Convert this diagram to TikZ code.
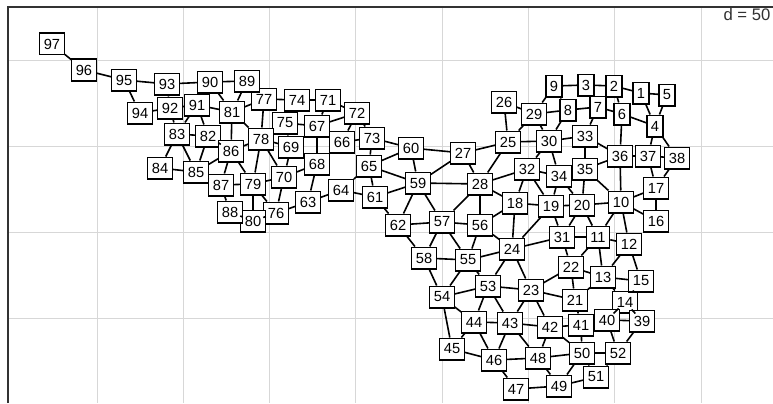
\documentclass[tikz,border=0pt]{standalone}
\usepackage{fontspec}
\setmainfont{Liberation Sans}
\usetikzlibrary{calc}
\definecolor{gridgray}{RGB}{215,215,215}
\definecolor{framegray}{RGB}{50,50,50}
\tikzset{
  site/.style  = {draw=black, fill=white, line width=0.95pt, inner xsep=3pt,
                  inner ysep=0pt, minimum height=16.3pt, font=\fontsize{11}{12}\selectfont},
  link/.style  = {draw=black, line width=1.2pt},
  gridln/.style = {draw=gridgray, line width=0.7pt},
}

\begin{document}
\begin{tikzpicture}[x=0.75pt, y=-0.75pt]

\useasboundingbox (0,0) rectangle (773,403);
\fill[white] (0,0) rectangle (773,403);

% grid
\foreach \gx in {97,183.3,269.6,355.9,442.2,528.5,614.8,701.1}
  \draw[gridln] (\gx,7) -- (\gx,403);
\foreach \gy in {60,146.3,232.6,318.9}
  \draw[gridln] (8,\gy) -- (773,\gy);
\draw[framegray, line width=0.8pt] (8,403) -- (8,7) -- (773,7);

\node[anchor=east, font=\fontsize{12.5}{14}\selectfont, text=framegray] (dlabel) at (775,15) {d = 50};

% sites
\foreach \n/\px/\py in {
  1/641/93, 2/614/86, 3/586/85, 4/655/126, 5/667/95, 6/622/114, 7/598/107,
  8/568/110, 9/554/86, 10/621/202, 11/598/237, 12/629/244, 13/603/277,
  14/625/302, 15/641/281, 16/656/221, 17/656/188, 18/515/203, 19/551/206,
  20/582/205, 21/575/300, 22/571/267, 23/531/290, 24/512/249, 25/508/142,
  26/504/102, 27/463/153, 28/480/184, 29/534/114, 30/549/141, 31/562/237,
  32/527/169, 33/585/136, 34/559/176, 35/585/169, 36/620/156, 37/648/156,
  38/677/158, 39/642/321, 40/607/320, 41/581/325, 42/550/327, 43/510/323,
  44/474/322, 45/452/349, 46/494/360, 47/516/389, 48/538/358, 49/559/386,
  50/582/353, 51/596/377, 52/618/353, 53/488/286, 54/442/297, 55/468/260,
  56/480/225, 57/442/222, 58/424/258, 59/418/183, 60/411/148, 61/375/197,
  62/398/225, 63/308/202, 64/341/190, 65/369/166, 66/342/142, 67/317/126,
  68/317/164, 69/291/147, 70/284/177, 71/328/100, 72/357/113, 73/372/138,
  74/297/100, 75/285/123, 76/276/213, 77/264/99, 78/261/139, 79/253/184,
  80/253/221, 81/232/112, 82/208/136, 83/177/134, 84/160/168, 85/196/172,
  86/231/151, 87/221/185, 88/230/212, 89/247/81, 90/210/82, 91/197/105,
  92/170/108, 93/167/84, 94/140/113, 95/124/80, 96/84/70, 97/52/44}
  \node[site] (s\n) at (\px,\py) {\n};

% links
\foreach \a/\b in {
  97/96, 96/95, 95/93, 95/94, 94/92, 93/92, 93/90, 90/89, 92/91, 91/81,
  90/81, 89/81, 92/83, 91/83, 91/82, 83/82, 83/84, 83/85, 82/85, 82/86,
  81/86, 81/78, 81/77, 86/85, 84/85, 85/87, 86/87, 86/79, 87/79, 87/88,
  88/80, 79/80, 80/76, 78/79, 78/86, 77/74, 74/71, 71/72, 71/67, 74/75,
  77/78, 75/67, 72/67, 72/66, 72/73, 66/73, 73/65, 67/68, 78/69, 78/70,
  75/69, 69/70, 68/70, 68/63, 70/76, 63/76, 63/64, 64/61, 64/65, 61/65,
  79/70, 79/76, 73/60, 65/60, 65/59, 60/27, 60/59, 61/59, 61/62, 59/28,
  59/27, 59/62, 59/57, 62/57, 57/56, 57/28, 28/56, 28/27, 28/25, 28/32,
  28/18, 27/25, 25/26, 26/29, 25/29, 25/30, 30/32, 32/18, 32/19, 32/34,
  18/19, 18/24, 56/18, 56/55, 57/55, 57/58, 62/58, 56/24,
  9/3, 3/2, 2/1, 1/5, 9/29, 9/8, 3/7, 29/8, 8/7, 2/6, 7/6, 1/4, 5/4, 6/4,
  6/36, 29/30, 8/30, 7/33, 30/33, 33/35, 33/36, 4/37, 4/38, 36/37, 37/38,
  36/35, 36/10, 37/17, 38/17, 17/10, 17/16, 10/16, 35/10, 35/20, 35/34,
  34/19, 34/20, 30/34, 19/20, 20/10,
  19/31, 20/31, 20/11, 10/11, 10/12, 24/31, 31/11, 11/12, 24/19, 31/22,
  11/22, 11/13, 12/13, 12/15, 22/23, 22/21, 22/13, 13/15, 13/21, 13/14,
  15/14, 23/21, 23/24, 23/42, 23/43, 21/41, 14/40, 14/39, 40/39, 41/40,
  42/41, 43/42, 42/48, 41/50, 42/50, 40/52, 39/52, 50/52, 48/50, 48/49,
  47/49, 50/49, 50/51, 52/51, 49/51, 43/48,
  24/55, 24/53, 58/55, 58/54, 55/53, 55/54, 54/53, 53/23, 53/44, 53/43,
  54/44, 54/45, 44/43, 44/45, 44/46, 43/46, 45/46, 46/48, 46/47}
  \draw[link] (s\a) -- (s\b);

\end{tikzpicture}
\end{document}
